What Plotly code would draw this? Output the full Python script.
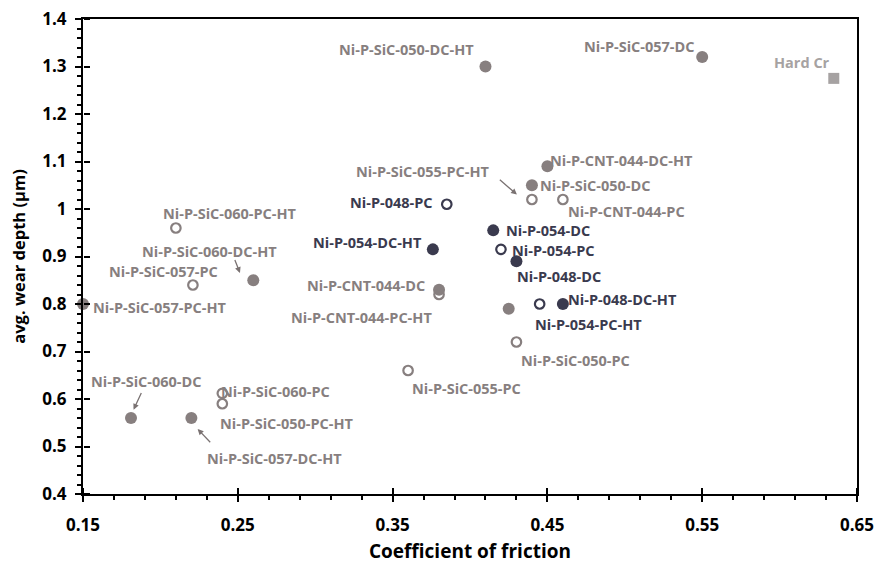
import plotly.graph_objects as go

# ---------------- data ----------------
labels = [
    "Ni-P-SiC-050-DC-HT", "Ni-P-SiC-057-DC", "Ni-P-CNT-044-DC-HT", "Ni-P-SiC-050-DC",
    "Ni-P-SiC-060-DC-HT", "Ni-P-SiC-057-PC-HT", "Ni-P-CNT-044-DC", "", "Ni-P-SiC-060-DC",
    "Ni-P-SiC-057-DC-HT",
    "Ni-P-SiC-055-PC-HT", "Ni-P-CNT-044-PC", "Ni-P-SiC-050-PC", "Ni-P-CNT-044-PC-HT",
    "Ni-P-SiC-055-PC", "Ni-P-SiC-060-PC-HT", "Ni-P-SiC-057-PC", "Ni-P-SiC-060-PC",
    "Ni-P-SiC-050-PC-HT",
    "Ni-P-054-DC", "Ni-P-048-DC", "Ni-P-048-DC-HT", "Ni-P-054-DC-HT",
    "Ni-P-054-PC", "Ni-P-054-PC-HT", "Ni-P-048-PC",
    "Hard Cr",
]
cof = [
    0.410, 0.550, 0.450, 0.440,
    0.260, 0.150, 0.380, 0.425, 0.181,
    0.220,
    0.440, 0.460, 0.430, 0.380,
    0.360, 0.210, 0.221, 0.240,
    0.240,
    0.415, 0.430, 0.460, 0.376,
    0.420, 0.445, 0.385,
    0.635,
]
wear = [
    1.300, 1.320, 1.090, 1.050,
    0.850, 0.800, 0.830, 0.790, 0.560,
    0.560,
    1.020, 1.020, 0.720, 0.820,
    0.660, 0.960, 0.840, 0.612,
    0.590,
    0.955, 0.890, 0.800, 0.915,
    0.915, 0.800, 1.010,
    1.275,
]
group = (["SiC/CNT DC"] * 10 + ["SiC/CNT PC"] * 9 + ["Ni-P DC"] * 4
         + ["Ni-P PC"] * 3 + ["Hard Cr"])
x_title = "Coefficient of friction"
y_title = "avg. wear depth (µm)"

# ---------------- styles ----------------
GRAY = "#877f7f"
DARK = "#3a3a4e"
LIGHT = "#a6a2a2"
FONT = "Open Sans"

styles = {
    "SiC/CNT DC": dict(symbol="circle", size=12, color=GRAY, line=dict(width=0)),
    "SiC/CNT PC": dict(symbol="circle-open", size=9.5, color=GRAY, line=dict(width=2.2, color=GRAY)),
    "Ni-P DC": dict(symbol="circle", size=12, color=DARK, line=dict(width=0)),
    "Ni-P PC": dict(symbol="circle-open", size=9.5, color=DARK, line=dict(width=2.2, color=DARK)),
    "Hard Cr": dict(symbol="square", size=11, color=LIGHT, line=dict(width=0)),
}
text_color = {"SiC/CNT DC": GRAY, "SiC/CNT PC": GRAY, "Ni-P DC": DARK,
              "Ni-P PC": DARK, "Hard Cr": LIGHT}

# label placement: anchor, dx (px to anchor edge), dy (px, down positive)
label_pos = {
    "Ni-P-SiC-050-DC-HT": ("right", -9, -16.7),
    "Ni-P-SiC-057-DC": ("right", -6, -10.6),
    "Hard Cr": ("right", -1.6, -16),
    "Ni-P-CNT-044-DC-HT": ("left", 1, -6),
    "Ni-P-SiC-050-DC": ("left", 6.5, 0.7),
    "Ni-P-SiC-055-PC-HT": ("right", -40.3, -28.3),
    "Ni-P-CNT-044-PC": ("left", 3, 12.4),
    "Ni-P-054-DC": ("left", 10.5, 0.3),
    "Ni-P-054-PC": ("left", 9, 1.4),
    "Ni-P-048-DC": ("left", -1, 15.3),
    "Ni-P-048-DC-HT": ("left", 3, -4.7),
    "Ni-P-054-PC-HT": ("left", -7, 20.7),
    "Ni-P-SiC-050-PC": ("left", 2.3, 18.3),
    "Ni-P-048-PC": ("right", -11.7, -1.6),
    "Ni-P-054-DC-HT": ("right", -8.4, -7.3),
    "Ni-P-CNT-044-DC": ("right", -11.6, -4.3),
    "Ni-P-CNT-044-PC-HT": ("right", -5, 23.4),
    "Ni-P-SiC-055-PC": ("left", 2.4, 18.3),
    "Ni-P-SiC-060-PC-HT": ("left", -14.4, -14.3),
    "Ni-P-SiC-060-DC-HT": ("left", -113.3, -29),
    "Ni-P-SiC-057-PC": ("right", 26.6, -14),
    "Ni-P-SiC-057-PC-HT": ("left", 8.4, 3.3),
    "Ni-P-SiC-060-DC": ("left", -41.7, -36.6),
    "Ni-P-SiC-057-DC-HT": ("left", 13.7, 40),
    "Ni-P-SiC-060-PC": ("left", -3, -1.6),
    "Ni-P-SiC-050-PC-HT": ("left", -4.3, 20),
}
# arrows: head shift from point (px, down positive), tail offset from head (px)
arrows = {
    "Ni-P-SiC-055-PC-HT": (-15, -5, -18.6, -16),
    "Ni-P-SiC-060-DC-HT": (-13.3, -7.3, -5.7, -14.4),
    "Ni-P-SiC-060-DC": (2.6, -8.3, 8.4, -18.3),
    "Ni-P-SiC-057-DC-HT": (6.3, 11, 14, 14.7),
}

fig = go.Figure()
# invisible trace on the helper axes that carry the inward half of the major ticks
fig.add_trace(go.Scatter(x=cof[:1], y=wear[:1], xaxis="x2", yaxis="y2", mode="markers",
                         marker=dict(opacity=0), showlegend=False, hoverinfo="skip"))
for g in ["SiC/CNT DC", "SiC/CNT PC", "Ni-P DC", "Ni-P PC", "Hard Cr"]:
    idx = [i for i, gg in enumerate(group) if gg == g]
    fig.add_trace(go.Scatter(
        x=[cof[i] for i in idx], y=[wear[i] for i in idx],
        mode="markers", marker=styles[g], name=g, hoverinfo="skip",
        cliponaxis=False,
    ))

annotations = []
for lab, xv, yv, g in zip(labels, cof, wear, group):
    if not lab:
        continue
    anchor, dx, dy = label_pos[lab]
    annotations.append(dict(
        x=xv, y=yv, xref="x", yref="y", text=lab, showarrow=False,
        xanchor=anchor, yanchor="middle", xshift=dx, yshift=-dy,
        font=dict(family=FONT, size=14.5, color=text_color[g], weight="bold"),
    ))
    if lab in arrows:
        hx, hy, tx, ty = arrows[lab]
        annotations.append(dict(
            x=xv, y=yv, xref="x", yref="y", text="", showarrow=True,
            xshift=hx, yshift=-hy, ax=tx, ay=ty,
            arrowhead=2, arrowsize=0.9, arrowwidth=1.3, arrowcolor="#7a7272",
        ))
# x-axis title
annotations.append(dict(
    x=0.5, y=0, xref="paper", yref="paper", text=x_title, showarrow=False,
    xanchor="center", yanchor="middle", yshift=-57,
    font=dict(family=FONT, size=19, color="black", weight="bold"),
))

axis_font = dict(family=FONT, size=17, color="black", weight="bold")
fig.update_layout(
    width=874, height=569,
    margin=dict(l=83, r=17, t=19, b=75),
    paper_bgcolor="white", plot_bgcolor="white",
    showlegend=False,
    annotations=annotations,
    xaxis=dict(
        range=[0.15, 0.65], tick0=0.15, dtick=0.1, ticks="outside", ticklen=6,
        tickwidth=1.5, tickcolor="black", automargin=False, ticklabeloverflow="allow",
        minor=dict(dtick=0.02, tick0=0.15, ticks="outside", ticklen=4, tickwidth=1.5, tickcolor="black"),
        showline=True, linecolor="black", linewidth=2, mirror=True,
        showgrid=False, zeroline=False, tickfont=axis_font, ticklabelstandoff=9,
    ),
    yaxis=dict(
        range=[0.4, 1.4], tick0=0.4, dtick=0.1, ticks="outside", ticklen=6,
        tickwidth=1.5, tickcolor="black", automargin=False,
        minor=dict(dtick=0.02, tick0=0.4, ticks="outside", ticklen=4, tickwidth=1.5, tickcolor="black"),
        showline=True, linecolor="black", linewidth=2, mirror=True,
        showgrid=False, zeroline=False, tickfont=axis_font, ticklabelstandoff=5,
        title=dict(text=y_title, standoff=13,
                   font=dict(family=FONT, size=16.5, color="black", weight="bold")),
    ),
    # helper axes at the same place, outward side pointing into the plot
    xaxis2=dict(side="top", anchor="free", position=0, overlaying="x",
                range=[0.15, 0.65], tick0=0.15, dtick=0.1,
                ticks="outside", ticklen=6, tickwidth=1.5, tickcolor="black", automargin=False,
                showticklabels=False, showline=False, showgrid=False, zeroline=False),
    yaxis2=dict(side="right", anchor="free", position=0, overlaying="y",
                range=[0.4, 1.4], tick0=0.4, dtick=0.1,
                ticks="outside", ticklen=6, tickwidth=1.5, tickcolor="black", automargin=False,
                showticklabels=False, showline=False, showgrid=False, zeroline=False),
)

fig.write_html("out.html")
